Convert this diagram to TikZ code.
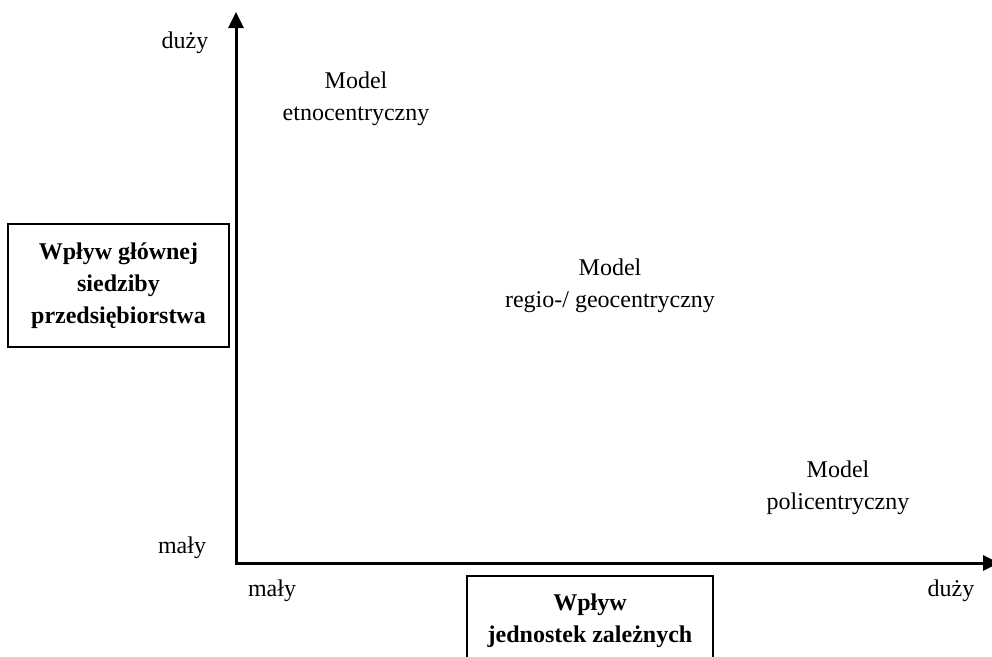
\documentclass[tikz,border=0pt]{standalone}
\usepackage{fontspec}
\setmainfont{Liberation Serif}
\usetikzlibrary{arrows.meta}
\begin{document}
\begin{tikzpicture}[x=1pt,y=-1pt,
  lbl/.style={inner sep=0pt,align=center,font=\fontsize{24}{32}\selectfont},
  framebox/.style={draw,line width=1.8pt,inner sep=0pt,align=center,
    font=\fontsize{24}{32}\selectfont\bfseries},
  axis/.style={line width=3pt,-{Triangle[length=16pt,width=15pt]}}]
\useasboundingbox (0,0) rectangle (992,656);

% axes
\coordinate (origin) at (236,563);
\coordinate (ytop) at (236,12);
\coordinate (xend) at (999,563);
\draw[axis] (origin) -- (ytop);
\draw[axis] ([xshift=-1.5pt]origin) -- (xend);

% axis scale labels
\node[lbl] (yhigh) at (185,43) {duży};
\node[lbl] (ylow) at (182,548) {mały};
\node[lbl] (xlow) at (272,591) {mały};
\node[lbl] (xhigh) at (951,591) {duży};

% axis titles
\node[framebox,minimum width=221pt,minimum height=123pt] (ytitle) at (118.5,285.5)
  {Wpływ głównej\\siedziby\\przedsiębiorstwa};
\node[framebox,minimum width=246pt,minimum height=90pt] (xtitle) at (590,621)
  {Wpływ\\jednostek zależnych};

% models
\node[lbl] (etno) at (356,99) {Model\\etnocentryczny};
\node[lbl] (regio) at (610,286) {Model\\regio-/ geocentryczny};
\node[lbl] (poli) at (838,488) {Model\\policentryczny};
\end{tikzpicture}
\end{document}
